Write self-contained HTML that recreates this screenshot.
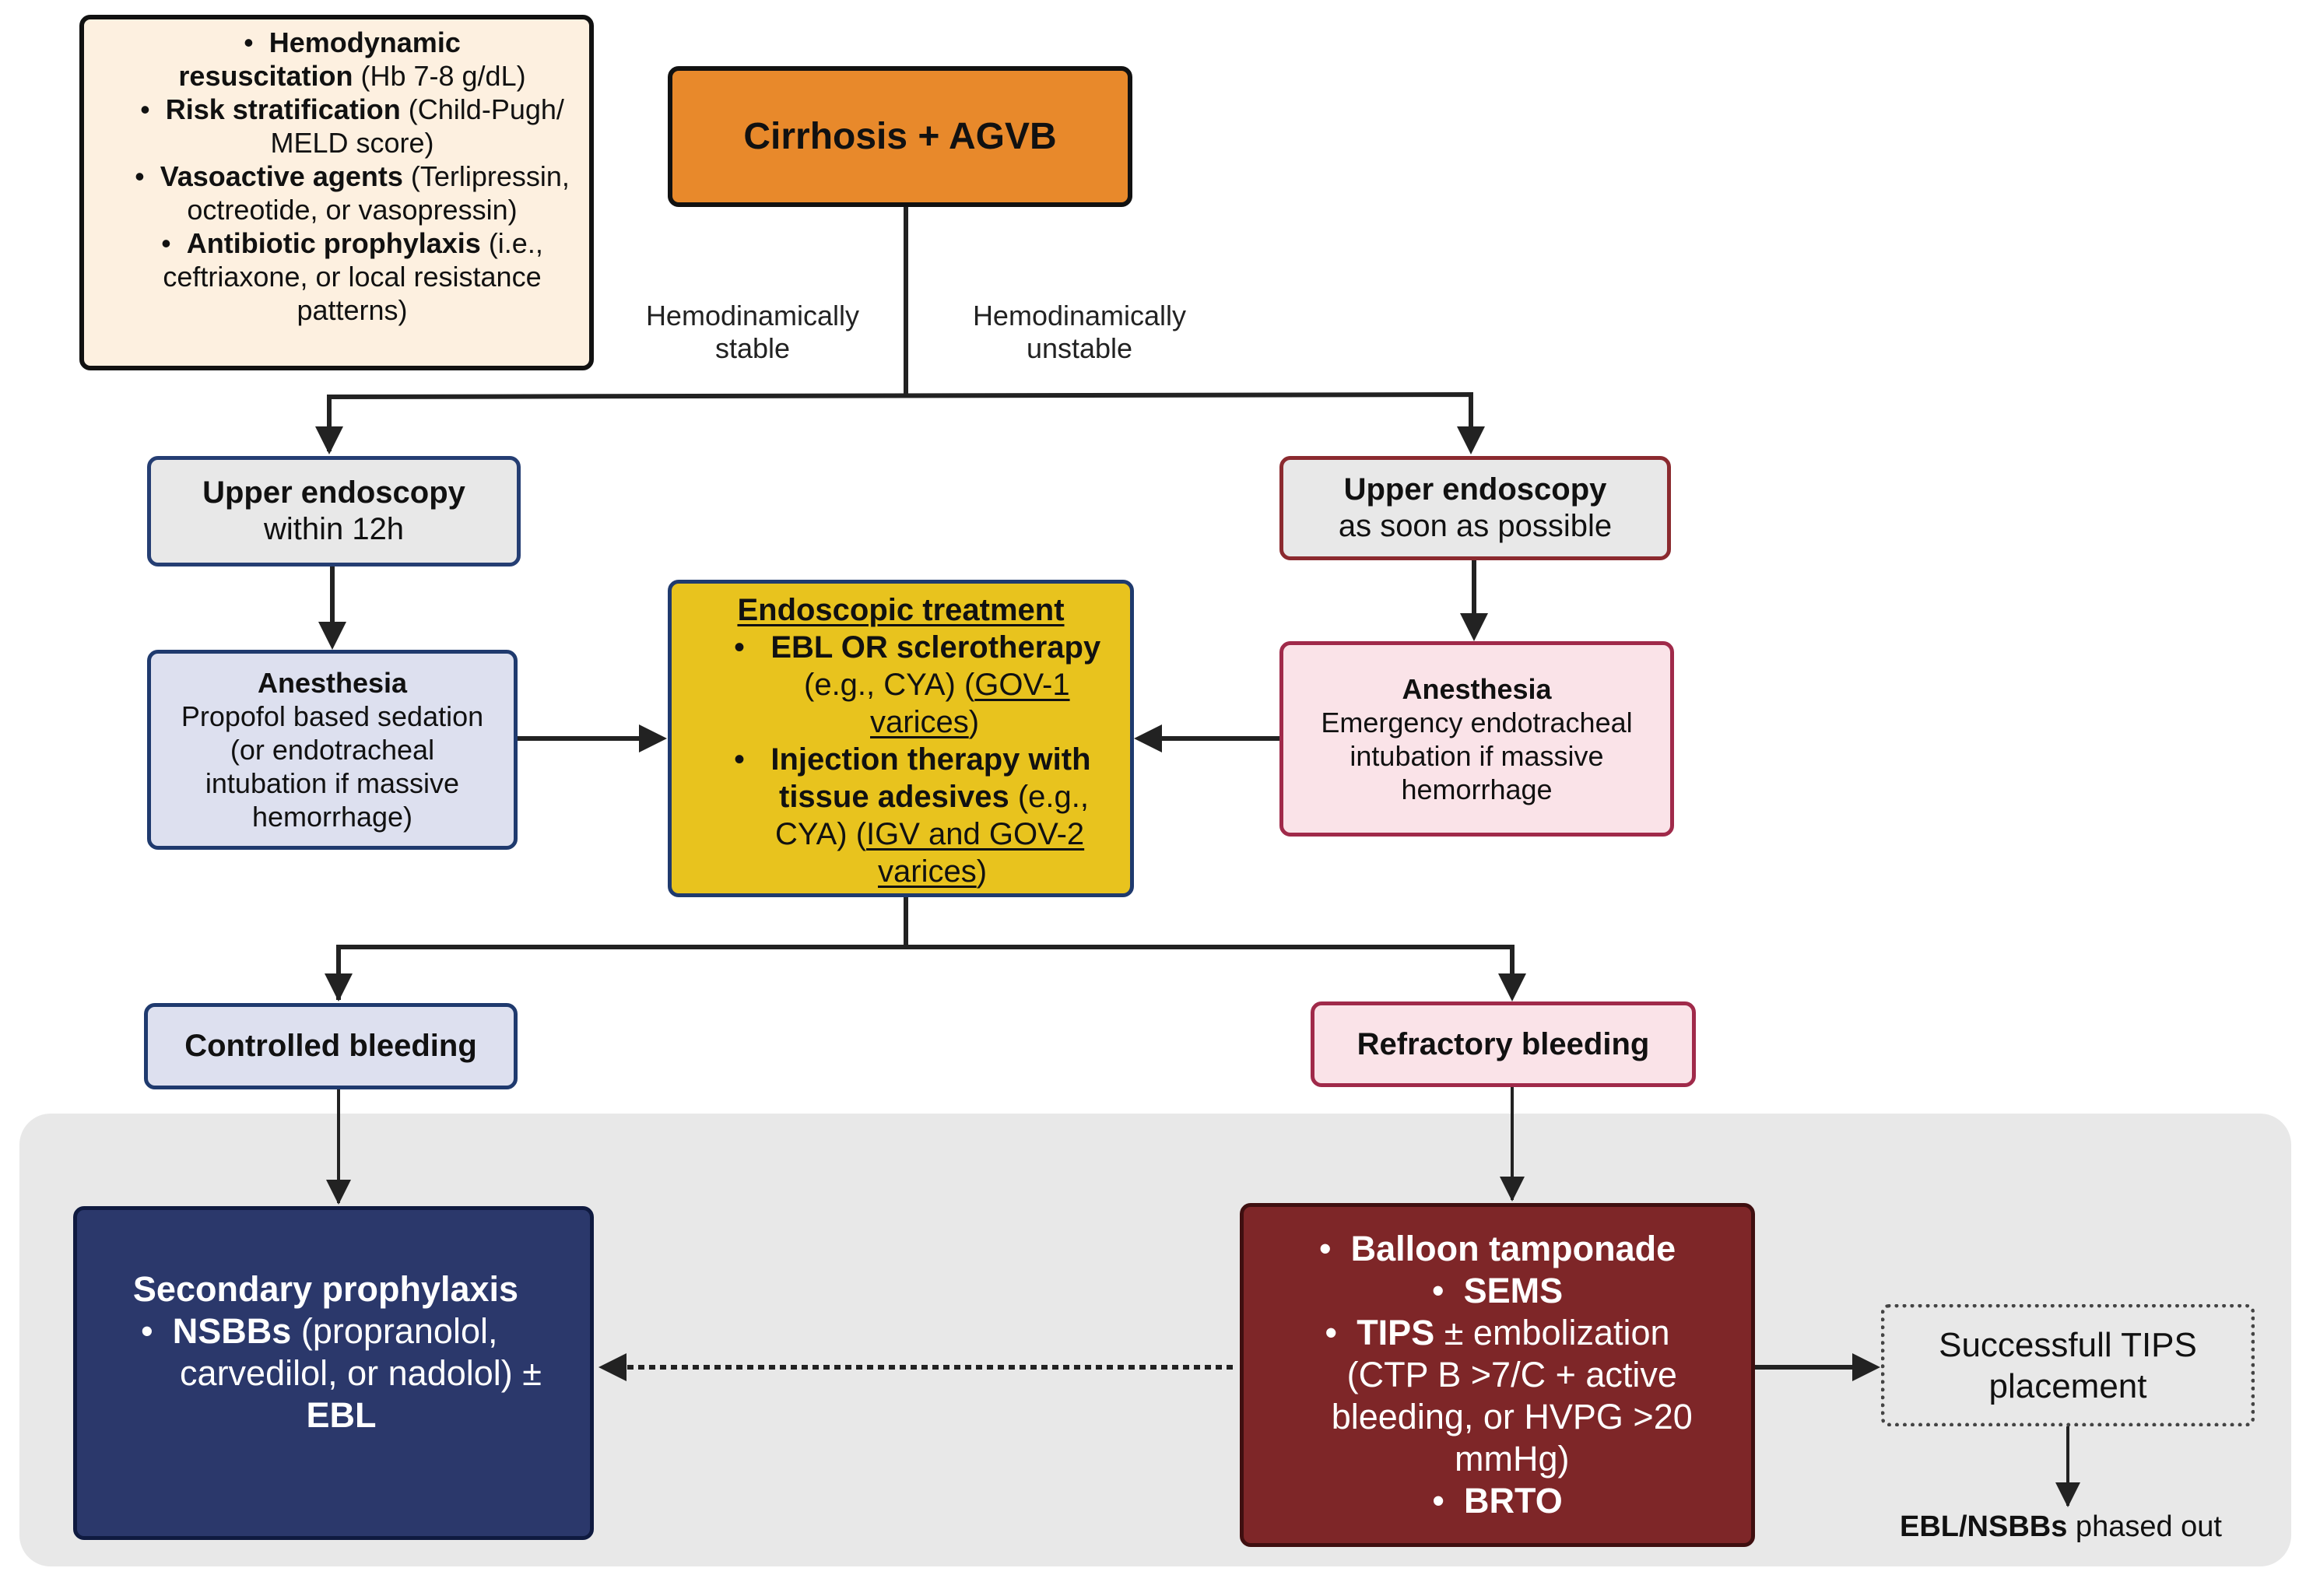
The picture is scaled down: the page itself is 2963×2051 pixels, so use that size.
<!DOCTYPE html>
<html><head><meta charset="utf-8"><style>
body{margin:0;width:2963px;height:2051px;background:#fff;position:relative;overflow:hidden;font-family:"Liberation Sans",sans-serif;color:#111}
.b{position:absolute;box-sizing:border-box;border-radius:14px;display:flex;flex-direction:column;justify-content:center;align-items:center;text-align:center;white-space:nowrap}
.t{position:absolute;text-align:center;white-space:nowrap}
u{text-decoration-thickness:3px;text-underline-offset:5px}
svg{position:absolute;left:0;top:0}
</style></head><body>
<div class="b" style="left:25px;top:1431px;width:2919px;height:582px;background:#e8e8e8;border-radius:40px"></div>

<div class="b" style="left:102px;top:19px;width:661px;height:457px;background:#fdf0e0;border:6px solid #111;font-size:36px;line-height:43px;justify-content:flex-start;padding-top:8px;padding-left:40px">
<div>•&nbsp; <b>Hemodynamic</b><br><b>resuscitation</b> (Hb 7-8 g/dL)<br>•&nbsp; <b>Risk stratification</b> (Child-Pugh/<br>MELD score)<br>•&nbsp; <b>Vasoactive agents</b> (Terlipressin,<br>octreotide, or vasopressin)<br>•&nbsp; <b>Antibiotic prophylaxis</b> (i.e.,<br>ceftriaxone, or local resistance<br>patterns)</div></div>

<div class="b" style="left:858px;top:85px;width:597px;height:181px;background:#e8892b;border:6px solid #111;font-size:48px;font-weight:bold">Cirrhosis + AGVB</div>

<div class="t" style="left:807px;top:385px;width:320px;font-size:36px;line-height:42px;color:#222">Hemodinamically<br>stable</div>
<div class="t" style="left:1227px;top:385px;width:320px;font-size:36px;line-height:42px;color:#222">Hemodinamically<br>unstable</div>

<div class="b" style="left:189px;top:586px;width:480px;height:142px;background:#e8e8e8;border:5px solid #253e73;font-size:40px;line-height:47px"><div><b>Upper endoscopy</b><br>within 12h</div></div>
<div class="b" style="left:1644px;top:586px;width:503px;height:134px;background:#e8e8e8;border:5px solid #8b2a2f;font-size:40px;line-height:47px"><div><b>Upper endoscopy</b><br>as soon as possible</div></div>

<div class="b" style="left:189px;top:835px;width:476px;height:257px;background:#dde0ef;border:5px solid #1f3a6e;font-size:36px;line-height:43px"><div><b>Anesthesia</b><br>Propofol based sedation<br>(or endotracheal<br>intubation if massive<br>hemorrhage)</div></div>
<div class="b" style="left:1644px;top:824px;width:507px;height:251px;background:#fae3e8;border:5px solid #a02a4a;font-size:36px;line-height:43px"><div><b>Anesthesia</b><br>Emergency endotracheal<br>intubation if massive<br>hemorrhage</div></div>

<div class="b" style="left:858px;top:745px;width:599px;height:408px;background:#e8c31e;border:5px solid #1f3a6e;font-size:40px;line-height:48px;justify-content:flex-start;padding-top:10px">
<div style="position:absolute;left:0;top:10px;width:100%;text-align:center"><b><u>Endoscopic treatment</u></b></div>
<div style="position:absolute;left:0;top:58px;width:100%;text-align:left">
<div style="padding-left:80px">•&nbsp;&nbsp; <b>EBL OR sclerotherapy</b></div>
<div style="padding-left:170px">(e.g., CYA) (<u>GOV-1 </u></div>
<div style="padding-left:255px"><u>varices</u>)</div>
<div style="padding-left:80px">•&nbsp;&nbsp; <b>Injection therapy with</b></div>
<div style="padding-left:138px"><b>tissue adesives</b> (e.g.,</div>
<div style="padding-left:133px">CYA) (<u>IGV and GOV-2 </u></div>
<div style="padding-left:265px"><u>varices</u>)</div>
</div></div>

<div class="b" style="left:185px;top:1289px;width:480px;height:111px;background:#dde0ef;border:5px solid #1f3a6e;font-size:40px;font-weight:bold">Controlled bleeding</div>
<div class="b" style="left:1684px;top:1287px;width:495px;height:110px;background:#fae3e8;border:5px solid #a02a4a;font-size:40px;font-weight:bold">Refractory bleeding</div>

<div class="b" style="left:94px;top:1550px;width:669px;height:429px;background:#2b386b;border:5px solid #0f1a40;color:#fff;font-size:45px;line-height:54px;justify-content:flex-start;padding-top:75px"><div style="text-align:left;padding-left:20px"><div style="text-align:center;margin-left:-40px"><b>Secondary prophylaxis</b></div>•&nbsp; <b>NSBBs</b> (propranolol,<br>&nbsp;&nbsp;&nbsp;&nbsp;carvedilol, or nadolol) ±<br><div style="text-align:center"><b>EBL</b></div></div></div>

<div class="b" style="left:1593px;top:1546px;width:662px;height:442px;background:#7e2628;border:5px solid #3f0f10;color:#fff;font-size:45px;line-height:54px"><div>•&nbsp; <b>Balloon tamponade</b><br>•&nbsp; <b>SEMS</b><br>•&nbsp; <b>TIPS</b> ± embolization<br>&nbsp;&nbsp;&nbsp;(CTP B &gt;7/C + active<br>&nbsp;&nbsp;&nbsp;bleeding, or HVPG &gt;20<br>&nbsp;&nbsp;&nbsp;mmHg)<br>•&nbsp; <b>BRTO</b></div></div>

<div class="b" style="left:2417px;top:1676px;width:480px;height:157px;border:5px dotted #444;border-radius:10px;font-size:44px;line-height:53px"><div>Successfull TIPS<br>placement</div></div>
<div class="t" style="left:2398px;top:1940px;width:500px;font-size:38px;line-height:44px"><b>EBL/NSBBs</b> phased out</div>

<svg width="2963" height="2051" viewBox="0 0 2963 2051">
<defs><marker id="a" markerWidth="6" markerHeight="6" refX="5" refY="3" orient="auto" markerUnits="strokeWidth"><path d="M0,0 L6,3 L0,6 z" fill="#222"/></marker>
<marker id="s" markerWidth="8" markerHeight="8" refX="7.5" refY="4" orient="auto" markerUnits="strokeWidth"><path d="M0,0 L8,4 L0,8 z" fill="#222"/></marker></defs>
<g stroke="#222" fill="none" stroke-width="6">
<polyline points="1164,266 1164,507"/>
<polyline points="423,580 423,510 1890,507 1890,578" marker-end="url(#a)"/>
<polyline points="423,512 423,578" marker-end="url(#a)"/>
<polyline points="427,728 427,829" marker-end="url(#a)"/>
<polyline points="1894,720 1894,818" marker-end="url(#a)"/>
<polyline points="665,949 851,949" marker-end="url(#a)"/>
<polyline points="1644,949 1463,949" marker-end="url(#a)"/>
<polyline points="1164,1153 1164,1217"/>
<polyline points="435,1285 435,1217 1943,1217 1943,1281" marker-end="url(#a)"/>
<polyline points="435,1220 435,1281" marker-end="url(#a)"/>
</g>
<g stroke="#222" fill="none" stroke-width="4">
<polyline points="435,1400 435,1546" marker-end="url(#s)"/>
<polyline points="1943,1397 1943,1542" marker-end="url(#s)"/>
<polyline points="2657,1833 2657,1935" marker-end="url(#s)"/>
</g>
<polyline points="2255,1757 2410,1757" stroke="#222" stroke-width="6" fill="none" marker-end="url(#a)"/>
<polyline points="1584,1757 775,1757" stroke="#222" stroke-width="6" stroke-dasharray="8,6" fill="none" marker-end="url(#a)"/>
</svg>
</body></html>
